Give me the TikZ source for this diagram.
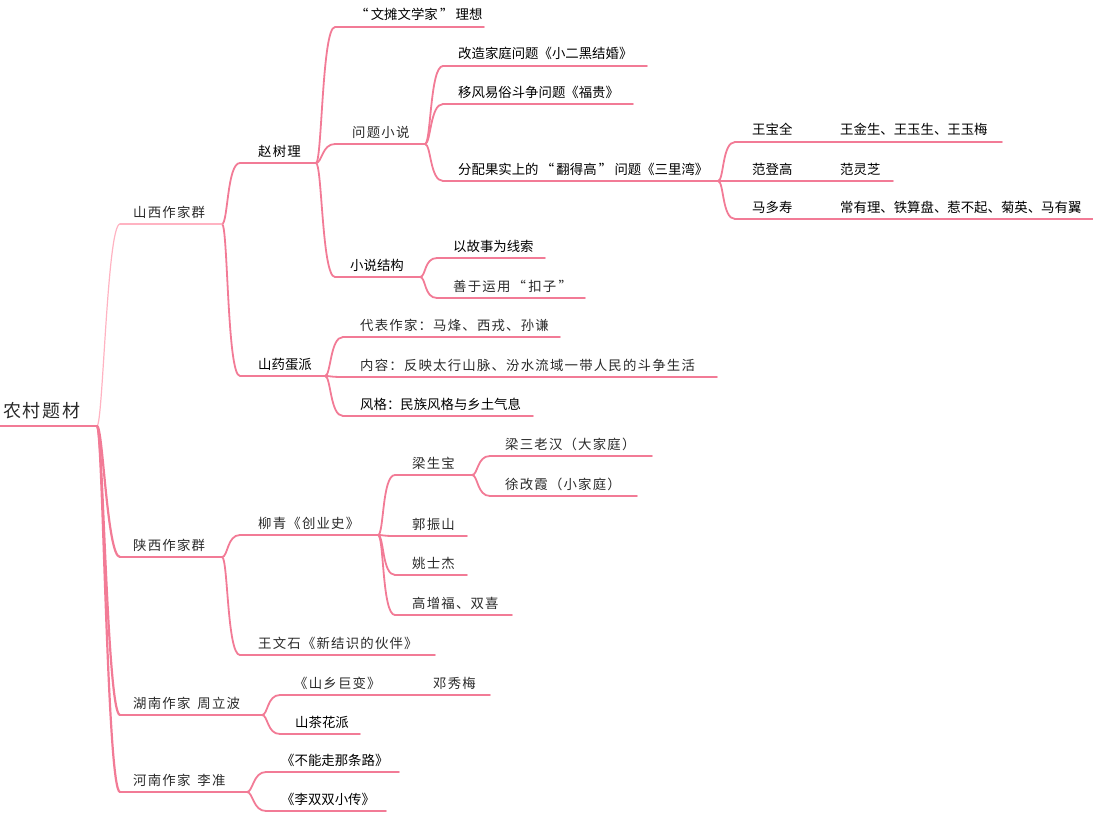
\documentclass[tikz,border=0pt]{standalone}
\usepackage{fontspec}
\newfontfamily\cjk{Noto Sans CJK SC}
\newfontfamily\cjksp{Noto Sans CJK SC}[LetterSpace=9]
\definecolor{pk}{HTML}{F27B96}
\definecolor{pkl}{HTML}{FFB3C2}
\definecolor{tg}{HTML}{2A2A2A}
\tikzset{
  tx/.style={anchor=base west,inner sep=0pt,text=black,font=\cjk\fontsize{13.4}{15}\selectfont},
  sp/.style={font=\cjksp\fontsize{13.4}{15}\selectfont,text=tg},
  ul/.style={draw=pk,line width=1.8pt,line cap=round},
  br/.style={draw=pk,line width=1.8pt,line cap=round,
    to path={.. controls +(6,0) and +(-13,0) .. (\tikztotarget)}},
  brr/.style={br,line width=2.2pt},
}
\newcommand\mmtopic[7][]{%
  \coordinate (#2s) at (#3,#5);
  \coordinate (#2e) at (#4,#5);
  \node[tx,#1] (#2) at (#6,#5-7) {#7};
}
\newcommand\mmline[1]{\draw[ul] (#1s) -- (#1e);}
\begin{document}
\begin{tikzpicture}[x=1pt,y=-1pt]
\useasboundingbox (0,0) rectangle (1093,816);
% root
\coordinate (Rs) at (0,426);
\coordinate (Re) at (97,426);
\node[tx,font=\cjksp\fontsize{18}{20}\selectfont,text=tg] (R) at (3,417) {农村题材};
% level 1
\mmtopic[sp]{SX}{120}{222}{224}{133}{山西作家群}
\mmtopic[sp]{SHX}{120}{222}{557}{133}{陕西作家群}
\mmtopic[sp]{HN}{120}{262}{715}{133}{湖南作家\hspace{7pt}周立波}
\mmtopic[sp]{HEN}{120}{247}{792}{133}{河南作家\hspace{7pt}李准}
% Shanxi
\mmtopic[sp,text=black]{ZSL}{240}{316}{163}{258}{赵树理}
\mmtopic{SYD}{240}{325}{376}{258}{山药蛋派}
\mmtopic{WT}{335}{484}{27}{355}{“\,文摊文学家\,”\,理想}
\mmtopic[sp]{WTXS}{335}{425}{144}{352}{问题小说}
\mmtopic{XSJG}{335}{420}{277}{350}{小说结构}
\mmtopic{GZ}{443}{647}{66}{458}{改造家庭问题《小二黑结婚》}
\mmtopic{YF}{443}{633}{104}{458}{移风易俗斗争问题《福贵》}
\mmtopic{FP}{443}{718}{181}{458}{分配果实上的\,“\,翻得高\,”\,问题《三里湾》}
\mmtopic{WBQ}{735}{1002}{142}{752}{王宝全}
\node[tx] (WBQb) at (840,142-7) {王金生、王玉生、王玉梅};
\mmtopic{FDG}{735}{893}{181}{752}{范登高}
\node[tx] (FDGb) at (840,181-7) {范灵芝};
\mmtopic{MDS}{735}{1093}{219}{752}{马多寿}
\node[tx] (MDSb) at (840,219-7) {常有理、铁算盘、惹不起、菊英、马有翼};
\mmtopic{GS}{437}{545}{258}{453}{以故事为线索}
\mmtopic[sp]{SY}{437}{585}{298}{453}{善于运用\,“\,扣子\,”}
\mmtopic[sp]{DB}{343}{560}{337}{360}{代表作家：马烽、西戎、孙谦}
\mmtopic[sp]{NR}{343}{717}{377}{360}{内容：反映太行山脉、汾水流域一带人民的斗争生活}
\mmtopic{FG}{343}{533}{416}{360}{风格：民族风格与乡土气息}
% Shaanxi
\mmtopic[sp]{LQ}{240}{378}{535}{258}{柳青《创业史》}
\mmtopic[sp]{WWS}{240}{435}{655}{258}{王文石《新结识的伙伴》}
\mmtopic[sp]{LSB}{395}{472}{475}{412}{梁生宝}
\mmtopic[sp]{GZS}{395}{467}{536}{412}{郭振山}
\mmtopic[sp]{YSJ}{395}{467}{575}{412}{姚士杰}
\mmtopic[sp]{GZF}{395}{512}{615}{412}{高增福、双喜}
\mmtopic[sp]{LSL}{490}{652}{456}{505}{梁三老汉（大家庭）}
\mmtopic[sp]{XGX}{490}{637}{496}{505}{徐改霞（小家庭）}
% Hunan
\mmtopic[sp]{SXJB}{280}{490}{695}{294}{《山乡巨变》}
\node[tx,sp] (SXJBb) at (433,695-7) {邓秀梅};
\mmtopic{SCH}{280}{360}{734}{295}{山茶花派}
% Henan
\mmtopic{BN}{266}{399}{772}{281}{《不能走那条路》}
\mmtopic{LSS}{266}{386}{811}{281}{《李双双小传》}
% connectors
\draw[brr,draw=pkl,line width=1.2pt] (Re) to (SXs);
\draw[brr] (Re) to (SHXs);
\draw[brr] (Re) to (HNs);
\draw[brr] (Re) to (HENs);
\draw[br] (SXe) to (ZSLs);
\draw[br] (SXe) to (SYDs);
\draw[br] (ZSLe) to (WTs);
\draw[br] (ZSLe) to (WTXSs);
\draw[br] (ZSLe) to (XSJGs);
\draw[br] (WTXSe) to (GZs);
\draw[br] (WTXSe) to (YFs);
\draw[br] (WTXSe) to (FPs);
\draw[br] (FPe) to (WBQs);
\draw[br] (FPe) to (FDGs);
\draw[br] (FPe) to (MDSs);
\draw[br] (XSJGe) to (GSs);
\draw[br] (XSJGe) to (SYs);
\draw[br] (SYDe) to (DBs);
\draw[br] (SYDe) to (NRs);
\draw[br] (SYDe) to (FGs);
\draw[br] (SHXe) to (LQs);
\draw[br] (SHXe) to (WWSs);
\draw[br] (LQe) to (LSBs);
\draw[br] (LQe) to (GZSs);
\draw[br] (LQe) to (YSJs);
\draw[br] (LQe) to (GZFs);
\draw[br] (LSBe) to (LSLs);
\draw[br] (LSBe) to (XGXs);
\draw[br] (HNe) to (SXJBs);
\draw[br] (HNe) to (SCHs);
\draw[br] (HENe) to (BNs);
\draw[br] (HENe) to (LSSs);
% underlines
\draw[ul,line width=1.4pt] (Rs) -- (Re);
\draw[ul,draw=pkl,line width=1.2pt] (SXs) -- (SXe);
\mmline{SHX}\mmline{HN}\mmline{HEN}
\mmline{ZSL}\mmline{SYD}\mmline{WT}\mmline{WTXS}\mmline{XSJG}
\mmline{GZ}\mmline{YF}\mmline{FP}\mmline{WBQ}\mmline{FDG}\mmline{MDS}
\mmline{GS}\mmline{SY}\mmline{DB}\mmline{NR}\mmline{FG}
\mmline{LQ}\mmline{WWS}\mmline{LSB}\mmline{GZS}\mmline{YSJ}\mmline{GZF}
\mmline{LSL}\mmline{XGX}\mmline{SXJB}\mmline{SCH}\mmline{BN}\mmline{LSS}
\end{tikzpicture}
\end{document}
